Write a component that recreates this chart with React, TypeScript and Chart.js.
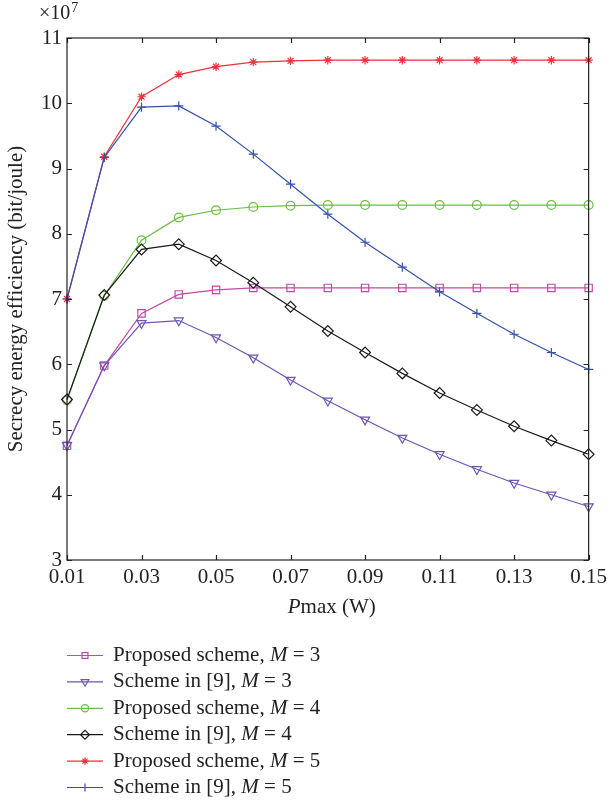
import React, { useEffect, useRef } from 'react';
import { Chart, registerables } from 'chart.js';
import { drawPoint } from 'chart.js/helpers';

Chart.register(...registerables);

// Values of secrecy energy efficiency in units of 1e7 bit/joule
const X_VALUES = [0.01, 0.02, 0.03, 0.04, 0.05, 0.06, 0.07, 0.08, 0.09, 0.1, 0.11, 0.12, 0.13, 0.14, 0.15];
const X_TICKS = [0.01, 0.03, 0.05, 0.07, 0.09, 0.11, 0.13, 0.15];
const Y_TICKS = [3, 4, 5, 6, 7, 8, 9, 10, 11];

const PROPOSED_M3 = [4.75, 5.98, 6.78, 7.07, 7.14, 7.17, 7.17, 7.17, 7.17, 7.17, 7.17, 7.17, 7.17, 7.17, 7.17];
const SCHEME9_M3 = [4.76, 5.98, 6.63, 6.67, 6.41, 6.10, 5.76, 5.44, 5.15, 4.87, 4.62, 4.39, 4.18, 4.00, 3.82];
const PROPOSED_M4 = [5.45, 7.05, 7.90, 8.25, 8.36, 8.41, 8.43, 8.44, 8.44, 8.44, 8.44, 8.44, 8.44, 8.44, 8.44];
const SCHEME9_M4 = [5.46, 7.06, 7.76, 7.84, 7.59, 7.25, 6.88, 6.51, 6.18, 5.86, 5.56, 5.30, 5.05, 4.83, 4.62];
const PROPOSED_M5 = [7.00, 9.18, 10.10, 10.44, 10.56, 10.63, 10.65, 10.66, 10.66, 10.66, 10.66, 10.66, 10.66, 10.66, 10.66];
const SCHEME9_M5 = [7.00, 9.17, 9.94, 9.96, 9.65, 9.22, 8.76, 8.30, 7.87, 7.49, 7.11, 6.78, 6.46, 6.18, 5.92];

const SERIES_LABELS = [
  'Proposed scheme, M = 3',
  'Scheme in [9], M = 3',
  'Proposed scheme, M = 4',
  'Scheme in [9], M = 4',
  'Proposed scheme, M = 5',
  'Scheme in [9], M = 5',
];
const SERIES_VALUES = [PROPOSED_M3, SCHEME9_M3, PROPOSED_M4, SCHEME9_M4, PROPOSED_M5, SCHEME9_M5];
const SERIES_COLORS = ['#c24aa8', '#6e55b4', '#6cbd45', '#1a1a1a', '#f0303a', '#3450ac'];

const FONT = '"Liberation Serif", "Times New Roman", serif';
const FS = 21;

export default function App() {
  const ref = useRef<HTMLCanvasElement | null>(null);

  useEffect(() => {
    if (!ref.current) return;
    const styles: any[] = [
      { pointStyle: 'rect', radius: 5.2, rotation: 0 },
      { pointStyle: 'triangle', radius: 5.2, rotation: 180 },
      { pointStyle: 'circle', radius: 4.4, rotation: 0 },
      { pointStyle: 'rectRot', radius: 5.4, rotation: 0 },
      { pointStyle: 'star', radius: 4.2, rotation: 0 },
      { pointStyle: 'cross', radius: 4.6, rotation: 0 },
    ];
    const legendStyles: any[] = [
      { pointStyle: 'rect', radius: 4.2, rotation: 0 },
      { pointStyle: 'triangle', radius: 4.4, rotation: 180 },
      { pointStyle: 'circle', radius: 3.6, rotation: 0 },
      { pointStyle: 'rectRot', radius: 4.4, rotation: 0 },
      { pointStyle: 'star', radius: 3.6, rotation: 0 },
      { pointStyle: 'cross', radius: 4, rotation: 0 },
    ];

    const datasets = SERIES_VALUES.map((vals, i) => ({
      label: SERIES_LABELS[i],
      data: vals.map((v, j) => ({ x: X_VALUES[j], y: v })),
      borderColor: SERIES_COLORS[i],
      backgroundColor: 'rgba(0,0,0,0)',
      pointBorderColor: SERIES_COLORS[i],
      pointBackgroundColor: 'rgba(0,0,0,0)',
      borderWidth: 1.2,
      pointBorderWidth: 1.2,
      pointStyle: styles[i].pointStyle,
      pointRadius: styles[i].radius,
      pointRotation: styles[i].rotation,
      tension: 0,
      clip: false as any,
      order: SERIES_VALUES.length - i,
    }));

    const decor = {
      id: 'decor',
      afterDraw(chart: any) {
        const ctx = chart.ctx as CanvasRenderingContext2D;
        const { left, right, top, bottom } = chart.chartArea;
        const xs = chart.scales.x;
        const ys = chart.scales.y;
        ctx.save();
        // box
        ctx.strokeStyle = '#222';
        ctx.lineWidth = 1.2;
        ctx.strokeRect(left, top, right - left, bottom - top);
        // inward ticks
        ctx.beginPath();
        X_TICKS.forEach((v) => {
          const px = Math.round(xs.getPixelForValue(v)) + 0.5;
          ctx.moveTo(px, bottom);
          ctx.lineTo(px, bottom - 5);
          ctx.moveTo(px, top);
          ctx.lineTo(px, top + 5);
        });
        Y_TICKS.forEach((v) => {
          const py = Math.round(ys.getPixelForValue(v)) + 0.5;
          ctx.moveTo(left, py);
          ctx.lineTo(left + 5, py);
          ctx.moveTo(right, py);
          ctx.lineTo(right - 5, py);
        });
        ctx.stroke();

        ctx.fillStyle = '#222';
        // exponent
        ctx.textBaseline = 'alphabetic';
        ctx.textAlign = 'left';
        ctx.font = `20px ${FONT}`;
        ctx.fillText('×10', 39, 19);
        const w10 = ctx.measureText('×10').width;
        ctx.font = `14px ${FONT}`;
        ctx.fillText('7', 39 + w10 + 1, 12);

        // y title
        ctx.save();
        ctx.translate(16, (top + bottom) / 2);
        ctx.rotate(-Math.PI / 2);
        ctx.textAlign = 'center';
        ctx.textBaseline = 'middle';
        ctx.font = `${FS}px ${FONT}`;
        ctx.fillText('Secrecy energy efficiency (bit/joule)', 0, 0);
        ctx.restore();

        // x title
        ctx.font = `italic ${FS}px ${FONT}`;
        const wP = ctx.measureText('P').width;
        ctx.font = `${FS}px ${FONT}`;
        const wRest = ctx.measureText('max (W)').width;
        const cx = (left + right) / 2 + 4;
        const sx = cx - (wP + wRest) / 2;
        ctx.textBaseline = 'middle';
        ctx.font = `italic ${FS}px ${FONT}`;
        ctx.fillText('P', sx, 607);
        ctx.font = `${FS}px ${FONT}`;
        ctx.fillText('max (W)', sx + wP, 607);

        // legend
        const rowY0 = 655.5;
        const rowH = 26.4;
        chart.data.datasets.forEach((ds: any, i: number) => {
          const y = rowY0 + i * rowH;
          ctx.strokeStyle = ds.borderColor;
          ctx.lineWidth = 1.2;
          ctx.beginPath();
          ctx.moveTo(67, y);
          ctx.lineTo(103, y);
          ctx.stroke();
          ctx.fillStyle = 'rgba(0,0,0,0)';
          drawPoint(ctx, {
            pointStyle: legendStyles[i].pointStyle,
            rotation: legendStyles[i].rotation,
            radius: legendStyles[i].radius,
            borderWidth: 1.2,
          } as any, 85, y);
          // label with italic M
          const label: string = ds.label;
          const idx = label.lastIndexOf('M');
          const pre = label.slice(0, idx);
          const post = label.slice(idx + 1);
          ctx.fillStyle = '#222';
          ctx.textBaseline = 'middle';
          ctx.textAlign = 'left';
          let tx = 113;
          ctx.font = `${FS}px ${FONT}`;
          ctx.fillText(pre, tx, y);
          tx += ctx.measureText(pre).width;
          ctx.font = `italic ${FS}px ${FONT}`;
          ctx.fillText('M', tx, y);
          tx += ctx.measureText('M').width;
          ctx.font = `${FS}px ${FONT}`;
          ctx.fillText(post, tx, y);
        });
        ctx.restore();
      },
    };

    const chart = new Chart(ref.current, {
      type: 'line',
      data: { datasets },
      options: {
        responsive: false,
        animation: false,
        devicePixelRatio: 1,
        layout: { padding: { left: 0, right: 18, top: 38, bottom: 201 } },
        plugins: { legend: { display: false }, tooltip: { enabled: false } },
        scales: {
          x: {
            type: 'linear',
            min: 0.01,
            max: 0.15,
            afterBuildTicks: (s: any) => {
              s.ticks = X_TICKS.map((v) => ({ value: v }));
            },
            afterFit: (s: any) => {
              s.height = 40;
            },
            grid: { display: false, drawTicks: false },
            border: { display: false },
            ticks: {
              padding: 5,
              color: '#222',
              font: { family: FONT, size: FS },
              maxRotation: 0,
              autoSkip: false,
              callback: (v: any) => Number(v).toFixed(2),
            },
          },
          y: {
            type: 'linear',
            min: 3,
            max: 11,
            afterBuildTicks: (s: any) => {
              s.ticks = Y_TICKS.map((v) => ({ value: v }));
            },
            afterFit: (s: any) => {
              s.width = 67;
            },
            grid: { display: false, drawTicks: false },
            border: { display: false },
            ticks: {
              padding: 5,
              color: '#222',
              font: { family: FONT, size: FS },
              callback: (v: any) => String(v),
            },
          },
        },
      },
      plugins: [decor],
    });
    return () => chart.destroy();
  }, []);

  return (
    <div style={{ position: 'fixed', left: 0, top: 0, width: 612, height: 801, background: '#fff' }}>
      <canvas ref={ref} width={612} height={801} style={{ width: 612, height: 801, display: 'block' }} />
    </div>
  );
}
